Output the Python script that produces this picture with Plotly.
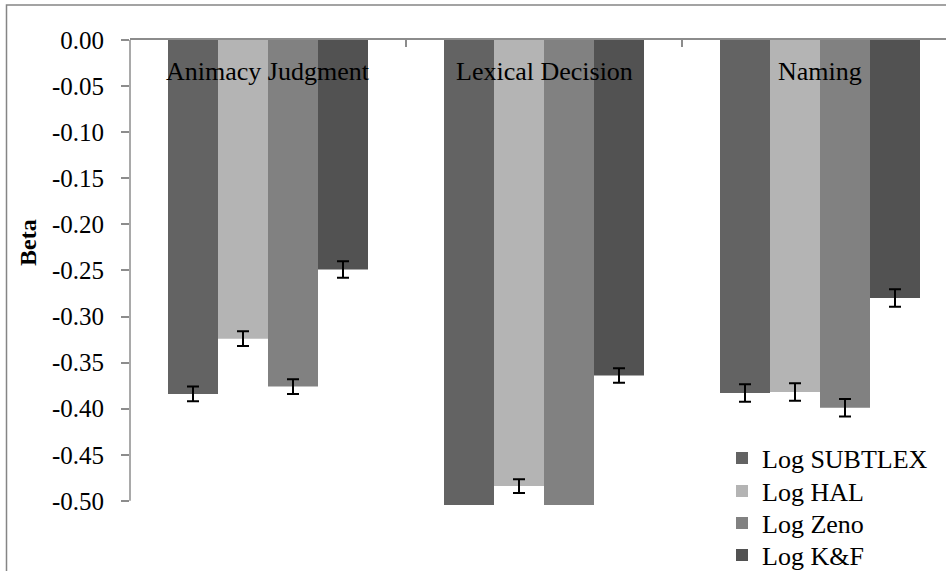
import plotly.graph_objects as go

categories = ["Animacy Judgment", "Lexical Decision", "Naming"]
series_names = ["Log SUBTLEX", "Log HAL", "Log Zeno", "Log K&F"]
subtlex = [-0.384, -0.53, -0.383]
hal = [-0.324, -0.484, -0.382]
zeno = [-0.376, -0.53, -0.399]
kf = [-0.249, -0.364, -0.280]
subtlex_err = [0.008, 0.008, 0.0095]
hal_err = [0.008, 0.0075, 0.0095]
zeno_err = [0.008, 0.008, 0.0095]
kf_err = [0.009, 0.008, 0.0095]
colors = ["#636363", "#b4b4b4", "#818181", "#525252"]
tick_vals = [0.0, -0.05, -0.10, -0.15, -0.20, -0.25, -0.30, -0.35, -0.40, -0.45, -0.50]
tick_text = ["0.00", "-0.05", "-0.10", "-0.15", "-0.20", "-0.25", "-0.30", "-0.35", "-0.40", "-0.45", "-0.50"]

FONT = "Liberation Serif, Times New Roman, serif"
W, H = 946, 571
ML, MR, MT, MB = 130, 0, 40, 66
plot_w = W - ML - MR
plot_h = H - MT - MB

legend_ids = ["legend", "legend2", "legend3", "legend4"]
legend_rows_px = [458, 491, 523, 555]

fig = go.Figure()
for name, vals, errs, col, lg in zip(series_names, [subtlex, hal, zeno, kf],
                                     [subtlex_err, hal_err, zeno_err, kf_err], colors, legend_ids):
    fig.add_trace(go.Bar(
        x=categories, y=vals, name=name, legend=lg,
        marker=dict(color=col, line=dict(width=0)),
        error_y=dict(type="data", array=errs, visible=True,
                     color="black", thickness=2, width=6),
    ))

axis_grey = "#8c8c8c"
legend_common = dict(
    xref="container", yref="container", xanchor="left", yanchor="middle",
    font=dict(family=FONT, size=26, color="black"),
    bgcolor="rgba(0,0,0,0)", itemwidth=30,
)
legend_layout = {}
for lg, ypx in zip(legend_ids, legend_rows_px):
    legend_layout[lg] = dict(legend_common, x=722 / W, y=1 - ypx / H)

fig.update_layout(
    width=W, height=H,
    margin=dict(l=ML, r=MR, t=MT, b=MB, autoexpand=False),
    paper_bgcolor="white", plot_bgcolor="white",
    barmode="group", bargap=76 / 276, bargroupgap=0,
    font=dict(family=FONT, color="black"),
    showlegend=True,
    xaxis=dict(
        side="top", type="category",
        range=[-0.5, -0.5 + plot_w / 276],
        showline=True, linecolor=axis_grey, linewidth=1.5,
        ticks="inside", tickson="boundaries", ticklen=7, tickcolor=axis_grey, tickwidth=1.5,
        showticklabels=False, showgrid=False, zeroline=False, automargin=False,
    ),
    yaxis=dict(
        range=[-0.5045, 0],
        tickvals=tick_vals, ticktext=tick_text,
        ticks="outside", ticklen=8, tickcolor=axis_grey, tickwidth=1.5,
        ticklabelstandoff=12,
        tickfont=dict(family=FONT, size=25, color="black"),
        showline=False, showgrid=False, zeroline=False, automargin=False,
    ),
    **legend_layout,
)

# y-axis line from -0.5 to 0
fig.add_shape(type="line", xref="paper", yref="y", x0=0, x1=0, y0=tick_vals[-1], y1=tick_vals[0],
              line=dict(color=axis_grey, width=1.5))
# outer chart border (cropped at right/bottom)
fig.add_shape(type="rect", xref="paper", yref="paper",
              x0=(6.5 - ML) / plot_w, x1=1.2,
              y0=-1, y1=(H - MB - 5) / plot_h,
              line=dict(color="#858585", width=1.5), fillcolor="rgba(0,0,0,0)", layer="above")

for c in categories:
    fig.add_annotation(x=c, y=0, xref="x", yref="y", text=c, showarrow=False,
                       yanchor="middle", yshift=-31,
                       font=dict(family=FONT, size=26, color="black"))

fig.add_annotation(xref="paper", yref="paper", x=(28 - ML) / plot_w, y=(H - MB - 243) / plot_h,
                   text="<b>Beta</b>", textangle=-90, showarrow=False,
                   xanchor="center", yanchor="middle",
                   font=dict(family=FONT, size=24, color="black"))

fig.write_html("out.html", config={"displayModeBar": False},
               post_script="document.body.style.margin='0';document.body.style.overflow='hidden';")
